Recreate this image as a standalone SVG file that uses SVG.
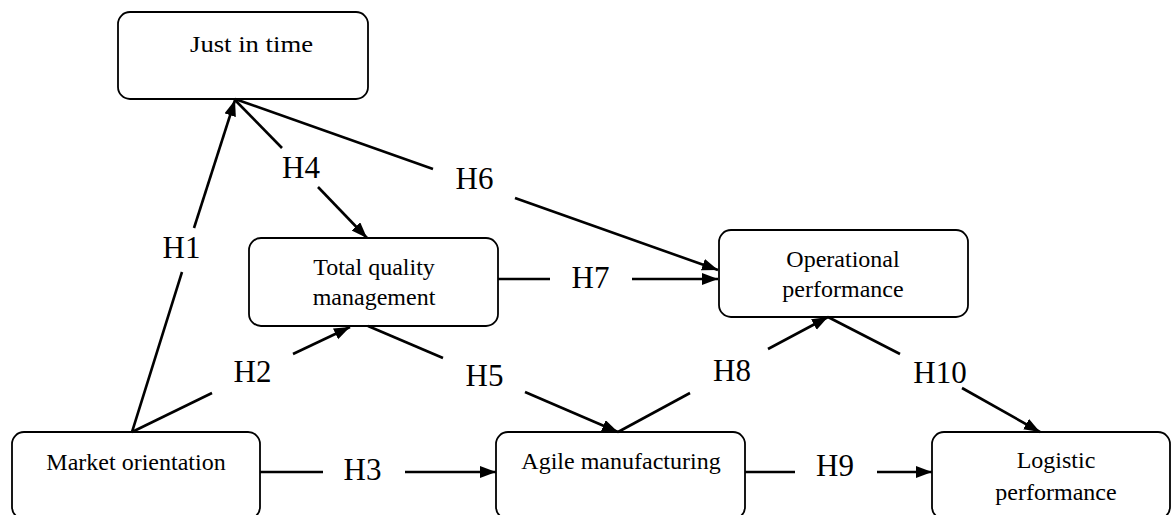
<svg xmlns="http://www.w3.org/2000/svg" width="1173" height="515" viewBox="0 0 1173 515">
<style>
.box{fill:#fff;stroke:#000;stroke-width:1.8}
.nt{font-family:"Liberation Serif","Times New Roman",serif;font-size:24px;fill:#000;text-anchor:middle}
.lb{font-family:"Liberation Serif","Times New Roman",serif;font-size:31px;fill:#000;text-anchor:middle}
.ln{stroke:#000;stroke-width:2.6;fill:none}
.ar{marker-end:url(#ah)}
</style>
<defs>
<marker id="ah" markerWidth="17" markerHeight="13" refX="16" refY="6" orient="auto" markerUnits="userSpaceOnUse">
<path d="M0,0 L16,6 L0,12 z" fill="#000"/>
</marker>
</defs>
<rect width="1173" height="515" fill="#fff"/>
<g id="jit">
<rect class="box" x="118" y="12" width="250" height="87" rx="12"/>
<text class="nt" x="251.5" y="52" font-size="26" textLength="123" lengthAdjust="spacingAndGlyphs">Just in time</text>
</g>
<g id="tqm">
<rect class="box" x="249" y="238" width="249" height="88" rx="12"/>
<text class="nt" x="374" y="275">Total quality</text>
<text class="nt" x="374" y="305">management</text>
</g>
<g id="op">
<rect class="box" x="719" y="230" width="249" height="87" rx="12"/>
<text class="nt" x="843" y="267">Operational</text>
<text class="nt" x="843" y="297">performance</text>
</g>
<g id="mo">
<rect class="box" x="12" y="432" width="248" height="87" rx="12"/>
<text class="nt" x="136" y="470">Market orientation</text>
</g>
<g id="am">
<rect class="box" x="496" y="432" width="249" height="87" rx="12"/>
<text class="nt" x="621" y="469">Agile manufacturing</text>
</g>
<g id="lp">
<rect class="box" x="932" y="432" width="238" height="87" rx="12"/>
<text class="nt" x="1056" y="468">Logistic</text>
<text class="nt" x="1056" y="500">performance</text>
</g>
<g id="connectors">
<line class="ln" x1="132" y1="432" x2="182" y2="272"/>
<line class="ln ar" x1="194" y1="228" x2="235" y2="100"/>
<line class="ln" x1="132" y1="432" x2="212" y2="393"/>
<line class="ln ar" x1="293" y1="354" x2="350" y2="327"/>
<line class="ln" x1="260" y1="472" x2="323" y2="472"/>
<line class="ln ar" x1="405" y1="472" x2="496" y2="472"/>
<line class="ln" x1="235" y1="100" x2="282" y2="148"/>
<line class="ln ar" x1="318" y1="187" x2="367" y2="238"/>
<line class="ln" x1="368" y1="326" x2="443" y2="358"/>
<line class="ln ar" x1="525" y1="392" x2="618" y2="432"/>
<line class="ln" x1="235" y1="99" x2="433" y2="169"/>
<line class="ln ar" x1="515" y1="198" x2="718" y2="270"/>
<line class="ln" x1="498" y1="279" x2="550" y2="279"/>
<line class="ln ar" x1="632" y1="279" x2="718" y2="279"/>
<line class="ln" x1="618" y1="432" x2="690" y2="393"/>
<line class="ln ar" x1="768" y1="349" x2="828" y2="317"/>
<line class="ln" x1="745" y1="472" x2="795" y2="472"/>
<line class="ln ar" x1="877" y1="472" x2="932" y2="472"/>
<line class="ln" x1="828" y1="317" x2="900" y2="354"/>
<line class="ln ar" x1="962" y1="388" x2="1040" y2="432"/>
<text class="lb" x="181.5" y="258">H1</text>
<text class="lb" x="252.5" y="382">H2</text>
<text class="lb" x="362.5" y="480">H3</text>
<text class="lb" x="301" y="178">H4</text>
<text class="lb" x="484.5" y="386">H5</text>
<text class="lb" x="474.5" y="189">H6</text>
<text class="lb" x="590.5" y="288">H7</text>
<text class="lb" x="732" y="381">H8</text>
<text class="lb" x="835" y="476">H9</text>
<text class="lb" x="940" y="383">H10</text>
</g>
</svg>
